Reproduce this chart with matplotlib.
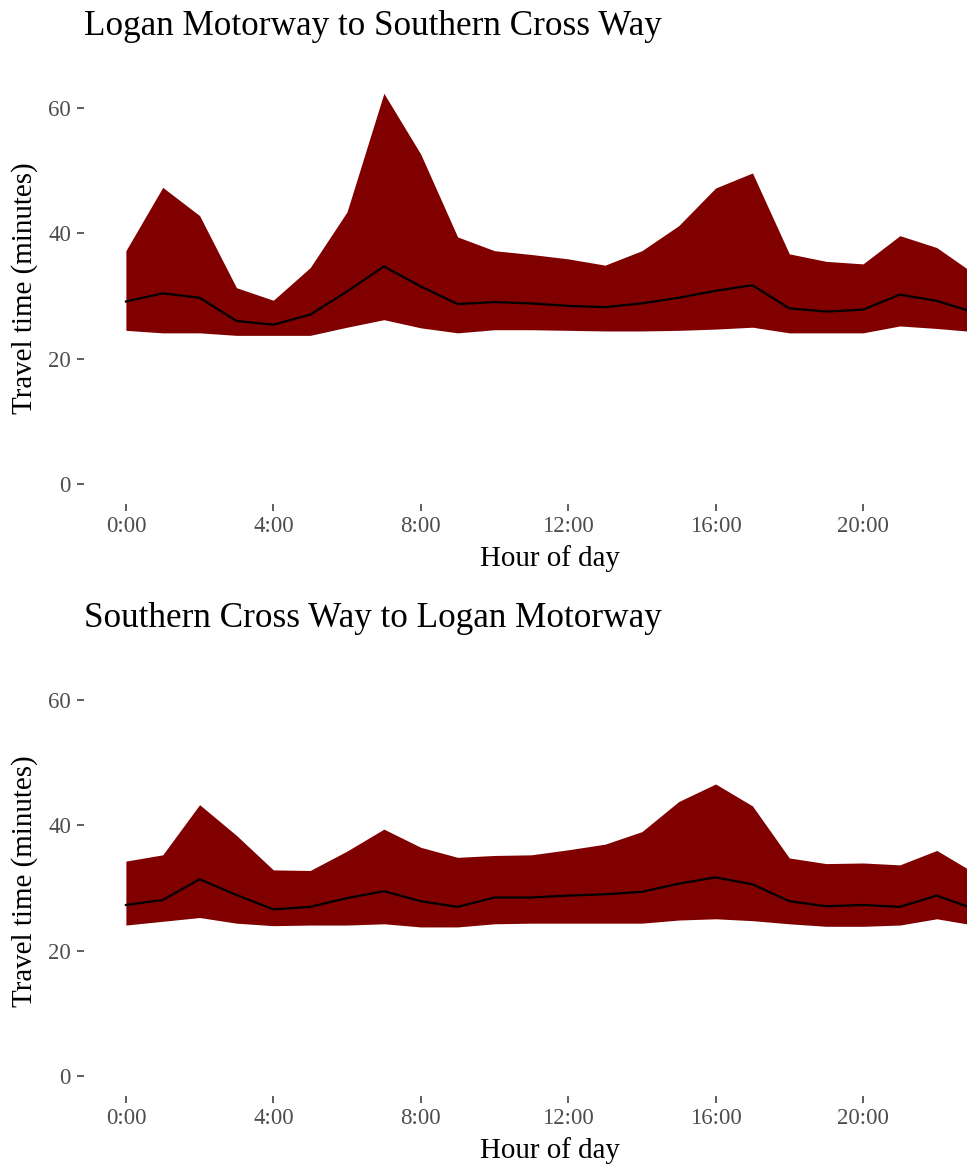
import numpy as np
import matplotlib
matplotlib.use("Agg")
import matplotlib.pyplot as plt

plt.rcParams["font.family"] = ["Liberation Serif", "DejaVu Serif"]

# hour of day
hours = np.arange(24)
hour_labels = ["0:00", "4:00", "8:00", "12:00", "16:00", "20:00"]
hour_ticks = [0, 4, 8, 12, 16, 20]

# Logan Motorway to Southern Cross Way (minutes)
lm_sc_low = [24.5, 24.1, 24.1, 23.7, 23.7, 23.7, 25.0, 26.2, 24.9, 24.1, 24.6, 24.6,
             24.5, 24.4, 24.4, 24.5, 24.7, 25.0, 24.1, 24.1, 24.1, 25.2, 24.8, 24.3]
lm_sc_mid = [29.1, 30.4, 29.7, 26.0, 25.4, 27.0, 30.7, 34.7, 31.5, 28.7, 29.0, 28.8,
             28.4, 28.2, 28.8, 29.7, 30.8, 31.7, 28.0, 27.5, 27.8, 30.2, 29.2, 27.4]
lm_sc_high = [37.2, 47.3, 42.8, 31.3, 29.3, 34.5, 43.4, 62.3, 52.6, 39.4, 37.2, 36.6,
              35.9, 34.9, 37.2, 41.2, 47.2, 49.6, 36.7, 35.5, 35.1, 39.6, 37.7, 33.6]

# Southern Cross Way to Logan Motorway (minutes)
sc_lm_low = [24.1, 24.7, 25.3, 24.4, 24.0, 24.1, 24.1, 24.3, 23.8, 23.8, 24.3, 24.4,
             24.4, 24.4, 24.4, 24.9, 25.1, 24.8, 24.3, 23.9, 23.9, 24.1, 25.1, 24.1]
sc_lm_mid = [27.3, 28.1, 31.4, 28.9, 26.6, 27.0, 28.4, 29.5, 27.9, 27.0, 28.5, 28.5,
             28.8, 29.0, 29.4, 30.7, 31.7, 30.6, 27.9, 27.1, 27.3, 27.0, 28.8, 26.7]
sc_lm_high = [34.3, 35.3, 43.3, 38.4, 32.9, 32.8, 35.9, 39.4, 36.5, 34.9, 35.2, 35.3,
              36.1, 37.0, 39.0, 43.8, 46.6, 43.1, 34.8, 33.9, 34.0, 33.7, 36.0, 32.5]

panels = [
    ("Logan Motorway to Southern Cross Way", lm_sc_low, lm_sc_mid, lm_sc_high),
    ("Southern Cross Way to Logan Motorway", sc_lm_low, sc_lm_mid, sc_lm_high),
]

W, H = 967, 1165
fig = plt.figure(figsize=(W / 100, H / 100), dpi=100)
fig.patch.set_facecolor("white")

# shared y scale, ggplot style 5% expansion
ymax = max(max(lm_sc_high), max(sc_lm_high))
ypad = 0.05 * ymax
xpad = 0.05 * (hours[-1] - hours[0])

left_px, right_px = 83.5, 1016
panel_top = [73.8, 666.0]
panel_h = 429.7
title_base = [35, 627]
xlab_base = [566, 1158]

for i, (title, low, mid, high) in enumerate(panels):
    ax = fig.add_axes([left_px / W, 1 - (panel_top[i] + panel_h) / H,
                       (right_px - left_px) / W, panel_h / H])
    ax.fill_between(hours, low, high, color="#800000", linewidth=0)
    ax.plot(hours, mid, color="black", linewidth=1.6)
    ax.set_xlim(hours[0] - xpad, hours[-1] + xpad)
    ax.set_ylim(-ypad, ymax + ypad)
    ax.set_xticks(hour_ticks)
    ax.set_xticklabels(hour_labels)
    ax.set_yticks([0, 20, 40, 60])
    for s in ax.spines.values():
        s.set_visible(False)
    ax.tick_params(axis="both", length=5, width=1.1, color="#333333",
                   labelcolor="#4D4D4D", labelsize=16.5)
    ax.tick_params(axis="x", pad=4)
    ax.tick_params(axis="y", pad=4)

    fig.text(left_px / W, 1 - title_base[i] / H, title, fontsize=25.3,
             va="baseline", ha="left", color="black")
    fig.text((left_px + right_px) / 2 / W, 1 - xlab_base[i] / H, "Hour of day",
             fontsize=20.9, va="baseline", ha="center", color="black")
    fig.text(25 / W, 1 - (panel_top[i] + panel_h / 2) / H, "Travel time (minutes)",
             fontsize=20.9, rotation=90, va="center", ha="center", color="black")

fig.savefig("out.png", dpi=100)
